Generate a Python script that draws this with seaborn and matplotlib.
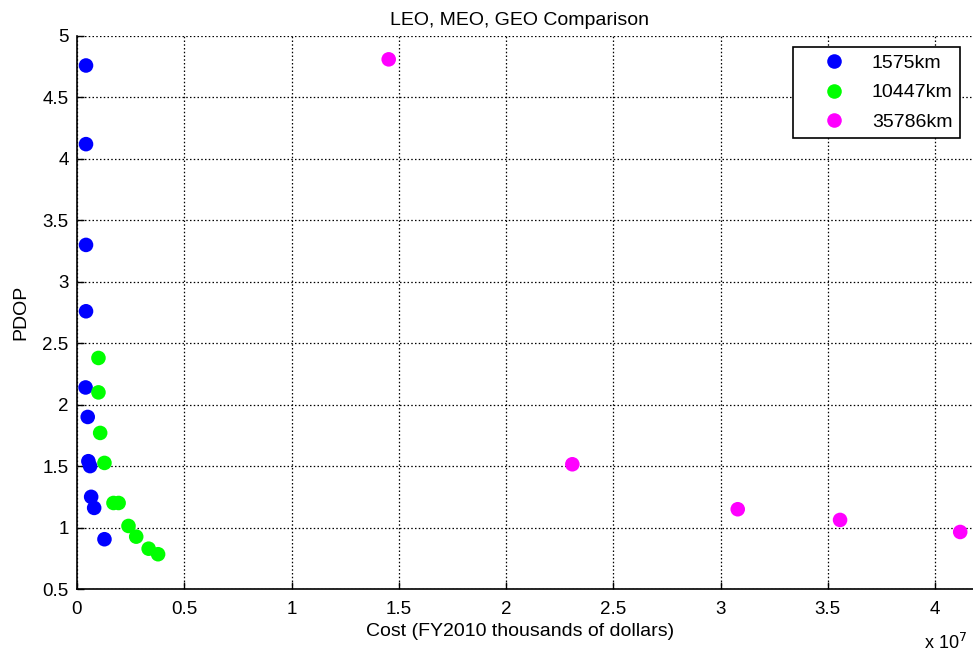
import matplotlib
matplotlib.use("Agg")
import matplotlib.pyplot as plt
import seaborn as sns
import pandas as pd
from matplotlib.ticker import FuncFormatter, MultipleLocator

# Data (cost in FY2010 thousands of dollars, PDOP)
leo_cost = [0.042e7, 0.042e7, 0.042e7, 0.042e7, 0.040e7, 0.050e7, 0.053e7, 0.061e7, 0.066e7, 0.080e7, 0.128e7]
leo_pdop = [4.76, 4.12, 3.30, 2.76, 2.14, 1.90, 1.54, 1.50, 1.25, 1.16, 0.905]
meo_cost = [0.100e7, 0.100e7, 0.108e7, 0.128e7, 0.170e7, 0.194e7, 0.240e7, 0.276e7, 0.334e7, 0.378e7]
meo_pdop = [2.38, 2.10, 1.77, 1.526, 1.20, 1.20, 1.013, 0.926, 0.828, 0.783]
geo_cost = [1.453e7, 2.309e7, 3.080e7, 3.557e7, 4.117e7]
geo_pdop = [4.81, 1.515, 1.149, 1.062, 0.964]
series_labels = ["1575km", "10447km", "35786km"]
series_colors = ["#0000ff", "#00ff00", "#ff00ff"]

df = pd.DataFrame({
    "cost": leo_cost + meo_cost + geo_cost,
    "pdop": leo_pdop + meo_pdop + geo_pdop,
    "orbit": [series_labels[0]] * len(leo_cost) + [series_labels[1]] * len(meo_cost) + [series_labels[2]] * len(geo_cost),
})

sns.set_style("white")
plt.rcParams["font.family"] = ["Liberation Sans", "DejaVu Sans"]
plt.rcParams["text.color"] = "black"
plt.rcParams["axes.labelcolor"] = "black"

fig = plt.figure(figsize=(9.73, 6.55), dpi=100)
ax = fig.add_axes([77 / 973, 1 - 589 / 655, (978 - 77) / 973, (589 - 36) / 655])

sns.scatterplot(data=df, x="cost", y="pdop", hue="orbit", hue_order=series_labels,
                palette=series_colors, s=110, edgecolor="none", linewidth=0, ax=ax, zorder=3)

ax.set_xlim(0, 4.2e7)
ax.set_ylim(0.5, 5)
ax.xaxis.set_major_locator(MultipleLocator(0.5e7))
ax.yaxis.set_major_locator(MultipleLocator(0.5))
ax.xaxis.set_major_formatter(FuncFormatter(lambda v, p: f"{v/1e7:g}"))
ax.yaxis.set_major_formatter(FuncFormatter(lambda v, p: f"{v:g}"))
ax.grid(True, color="black", linestyle=(0, (1.2, 1.8)), linewidth=0.9, zorder=0)
ax.set_axisbelow(True)
for s in ["top", "right"]:
    ax.spines[s].set_visible(False)
for s in ["left", "bottom"]:
    ax.spines[s].set_color("black")
    ax.spines[s].set_linewidth(1.2)
ax.tick_params(direction="in", length=5, width=1, colors="black", labelsize=13.5,
               bottom=True, left=True)
ax.tick_params(axis="x", pad=9)
ax.tick_params(axis="y", pad=6)

cx = (520 - 77) / 901
ax.set_title("LEO, MEO, GEO Comparison", fontsize=14, x=cx, pad=8, color="black")
ax.set_xlabel("Cost (FY2010 thousands of dollars)", fontsize=14, color="black")
ax.xaxis.set_label_coords(cx, -(632 - 589) / 553)
ax.xaxis.label.set_va("center")
ax.set_ylabel("PDOP", fontsize=14, color="black")
ax.yaxis.set_label_coords(-(77 - 21) / 901, 0.5)
ax.yaxis.label.set_va("center")
fig.text(924 / 973, 1 - 649 / 655, "x 10$^7$", fontsize=13, ha="left", va="baseline", color="black")

leg = ax.legend(loc="upper right", bbox_to_anchor=(0.98, 0.98), borderaxespad=0,
                fontsize=14, frameon=True, fancybox=False, shadow=False,
                handletextpad=0.2, handlelength=3.5, labelspacing=0.6, borderpad=0.38,
                markerscale=1.0)
leg.get_frame().set_edgecolor("black")
leg.get_frame().set_linewidth(1.2)
leg.get_frame().set_alpha(1)
leg.set_title(None)
for t in leg.get_texts():
    t.set_color("black")

fig.savefig("out.png", dpi=100)
